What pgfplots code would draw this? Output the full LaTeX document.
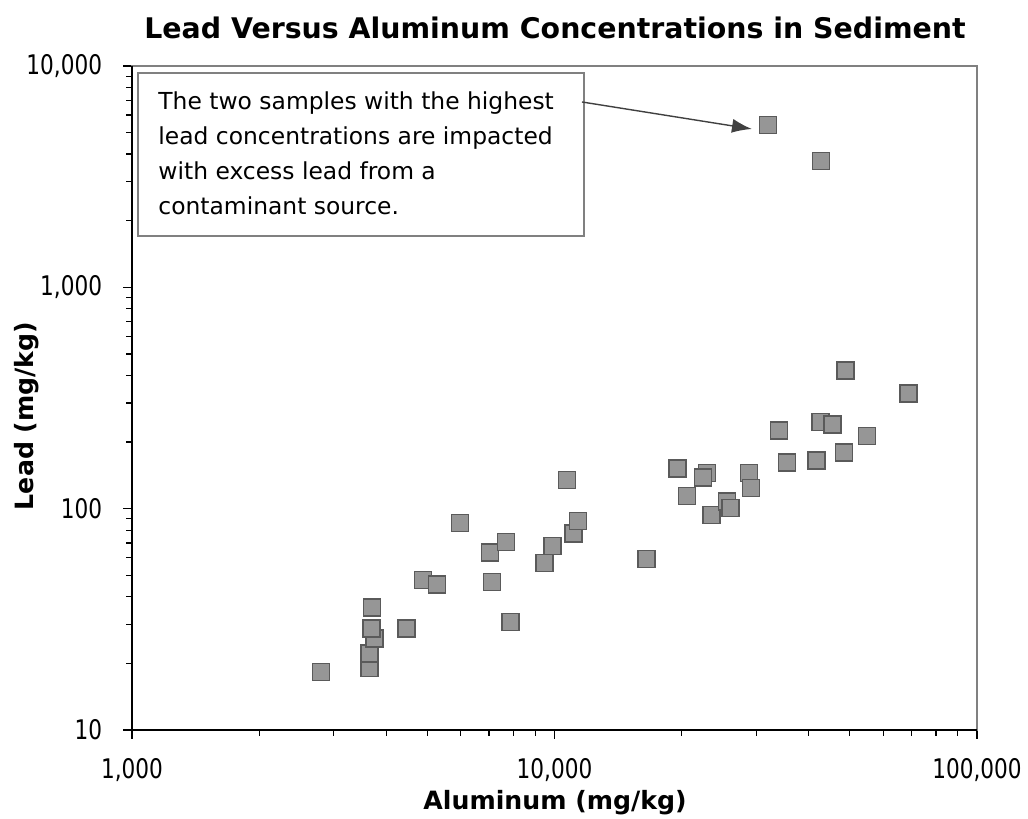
\documentclass[border=0pt]{standalone}
\usepackage{fontspec}
\setmainfont{DejaVu Sans}
\newfontfamily\tickfont{DejaVu Sans}[FakeStretch=0.8]
\usepackage{pgfplots}
\pgfplotsset{compat=1.18}
\usetikzlibrary{arrows.meta}
\definecolor{markfill}{HTML}{969696}
\definecolor{markdraw}{HTML}{5A5A5A}
\definecolor{framegray}{HTML}{808080}
\begin{document}
\begin{tikzpicture}
\path[use as bounding box] (-66pt,-44.5pt) rectangle (448pt,365pt);
\begin{axis}[
  xmode=log, ymode=log,
  scale only axis, width=422.5pt, height=332pt,
  xmin=1000, xmax=100000, ymin=10, ymax=10000,
  log ticks with fixed point,
  /pgf/number format/1000 sep={,},
  /pgf/number format/assume math mode=true,
  tick pos=left, tick align=outside,
  major tick length=4.5pt, minor tick length=3pt,
  every tick/.style={black, line width=0.6pt},
  axis line style={framegray, line width=1pt},
  ticklabel style={font=\tickfont\fontsize{13.5}{15}\selectfont},
  xticklabel style={yshift=-6pt},
  yticklabel style={xshift=-7pt},
  clip=false,
]
\addplot[only marks, mark=square*, mark size=4.25pt,
  mark options={fill=markfill, draw=markdraw, line width=0.7pt}] coordinates {
(2800,18.3) (3645,19.1) (3645,22.2) (3753,25.9) (3685,28.8) (3700,35.7)
(4460,28.8) (4877,47.6) (5263,45.5) (7112,46.5) (7036,63.5) (7680,70.7)
(7876,30.8) (5975,86.2) (9461,57.0) (9881,67.8) (11102,77.1) (11366,88.0)
(10705,134.8) (16500,59.3) (19567,151.6) (20556,114.1) (22961,145.0) (22464,138.1)
(23550,93.9) (25560,107.6) (26120,100.4) (28870,144.5) (29180,124.1) (35500,161.4)
(41660,164.8) (33990,225.2) (42570,246.5) (45540,239.7) (48440,179.1) (54920,212.4)
(48780,420.4) (68900,331) (31960,5401) (42660,3726)
};
% left and bottom axis lines in black
\draw[black, line width=1pt] (rel axis cs:0,1) -- (rel axis cs:0,0) -- (rel axis cs:1,0);
% annotation
\draw[framegray, line width=1pt] (rel axis cs:0.0068,0.744) rectangle (rel axis cs:0.535,0.99);
\node[anchor=north west, align=left, inner sep=0pt,
  font=\fontsize{11.7}{17.5}\selectfont] at (rel axis cs:0.0308,0.962)
  {The two samples with the highest\\lead concentrations are impacted\\with excess lead from a\\contaminant source.};
\draw[-{Latex[length=10pt,width=7pt]}, black!75, line width=0.7pt]
  (rel axis cs:0.5325,0.9458) -- (rel axis cs:0.7337,0.9051);
% title and labels
\node[font=\bfseries\fontsize{14.2}{16}\selectfont] at (rel axis cs:0.5006,1.057)
  {Lead Versus Aluminum Concentrations in Sediment};
\node[font=\bfseries\fontsize{12.6}{14}\selectfont] at (rel axis cs:0.5006,-0.1099)
  {Aluminum (mg/kg)};
\node[font=\bfseries\fontsize{12.6}{14}\selectfont, rotate=90] at (rel axis cs:-0.1243,0.473)
  {Lead (mg/kg)};
\end{axis}
\end{tikzpicture}
\end{document}
